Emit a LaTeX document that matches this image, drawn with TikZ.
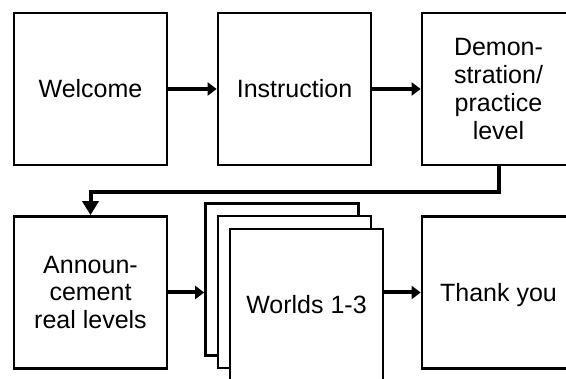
\documentclass[tikz,border=0pt]{standalone}
\usepackage{fontspec}
\setmainfont{Liberation Sans}
\usetikzlibrary{arrows.meta}
\tikzset{
  box/.style={draw, line width=2.7pt, fill=white, minimum width=153pt, minimum height=152pt,
    inner sep=0pt, align=center, font=\fontsize{25}{27.8}\selectfont},
  flow/.style={line width=4pt, -{Triangle[length=9pt,width=13pt]}},
  bigflow/.style={line width=4pt, -{Triangle[length=14pt,width=16pt]}}
}
\begin{document}
\begin{tikzpicture}[x=1pt,y=-1pt]
        \clip (0,0) rectangle (566,379);
        %prima riga
        \node[box] (welcome) at (90.5,89) {Welcome};
        \node[box] (instr) at (294.5,89) {Instruction};
        \node[box] (demo) at (498.5,89) {Demon-\\stration/\\practice\\level};
        %seconda riga
        \node[box] (announce) at (90.5,292.5) {Announ-\\cement\\real levels};
        \node[box] (worldsc) at (282,279.5) {}; %foglio dietro
        \node[box] (worldsb) at (294.5,292) {}; %foglio in mezzo
        \node[box] (worldsa) at (306.5,305) {Worlds 1-3}; %foglio davanti
        \node[box, text depth=0pt] (thanks) at (498.5,292.5) {Thank you};
        %frecce
        \draw[flow] (welcome) -- (instr);
        \draw[flow] (instr) -- (demo);
        \draw[bigflow] (demo.south) -- ++(0,26) -| (announce.north); %ritorno a capo
        \draw[flow] (announce.east) -- (announce.east -| worldsc.west);
        \draw[flow] (thanks.west -| worldsa.east) -- (thanks.west);
    \end{tikzpicture}
\end{document}
